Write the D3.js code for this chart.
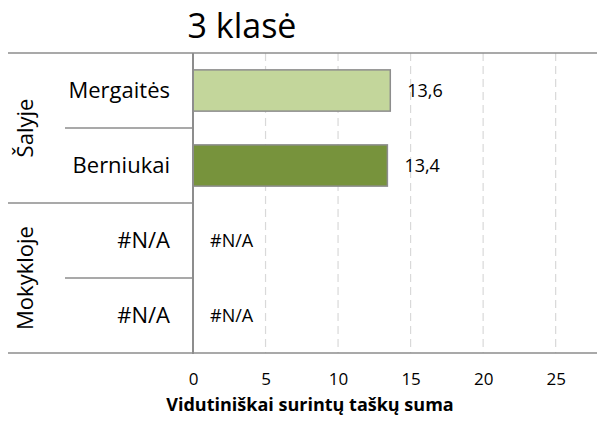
<!DOCTYPE html>
<html>
<head>
<meta charset="utf-8">
<script src="https://cdn.jsdelivr.net/npm/d3@7"></script>
<style>
  body { margin: 0; background: #fff; }
  text { font-family: "Open Sans", sans-serif; fill: #000; }
</style>
</head>
<body>
<svg id="chart" width="597" height="421"></svg>
<script>
// chart data
const groups = ["Šalyje", "Mokykloje"];
const rowGroup = ["Šalyje", "Šalyje", "Mokykloje", "Mokykloje"];
const rowLabels = ["Mergaitės", "Berniukai", "#N/A", "#N/A"];
const values = [13.6, 13.4, null, null];
const valueLabels = ["13,6", "13,4", "#N/A", "#N/A"];
const barColors = ["#c3d69b", "#77933c", "#c3d69b", "#77933c"];
const xTicks = [0, 5, 10, 15, 20, 25];

const svg = d3.select("#chart");
const plotLeft = 193, plotRight = 597, plotTop = 53, plotBottom = 353;

var x = d3.scaleLinear().domain([0, 27.85]).range([plotLeft, plotRight]);
var y = d3.scaleBand().domain(d3.range(rowLabels.length)).range([plotTop, plotBottom]).paddingInner(0.45).paddingOuter(0.225);
var rowY = d3.scaleBand().domain(d3.range(rowLabels.length)).range([plotTop, plotBottom]);

// title
svg.append("text")
  .attr("x", 242).attr("y", 38)
  .attr("text-anchor", "middle")
  .attr("font-size", 34)
  .text("3 klasė");

// dashed gridlines
svg.append("g").selectAll("line")
  .data(xTicks.filter(function(d) { return d > 0; }))
  .enter().append("line")
  .attr("x1", function(d) { return x(d); })
  .attr("x2", function(d) { return x(d); })
  .attr("y1", plotTop).attr("y2", plotBottom)
  .attr("stroke", "#d9d9d9")
  .attr("stroke-width", 1.2)
  .attr("stroke-dasharray", "8,5");

// bars
svg.append("g").selectAll("rect")
  .data(values.map(function(v, i) { return {v: v, i: i}; }).filter(function(d) { return d.v != null; }))
  .enter().append("rect")
  .attr("x", x(0))
  .attr("y", function(d) { return y(d.i); })
  .attr("width", function(d) { return x(d.v) - x(0); })
  .attr("height", y.bandwidth())
  .attr("fill", function(d) { return barColors[d.i]; })
  .attr("stroke", "#8d8d8d")
  .attr("stroke-width", 1.5);

// value labels
svg.append("g").selectAll("text")
  .data(values.map(function(v, i) { return {v: v, i: i}; }))
  .enter().append("text")
  .attr("x", function(d) { return x(d.v == null ? 0 : d.v) + 17; })
  .attr("y", function(d) { return y(d.i) + y.bandwidth() / 2; })
  .attr("dy", "0.36em")
  .attr("font-size", 18)
  .text(function(d) { return valueLabels[d.i]; });

// category labels
svg.append("g").selectAll("text")
  .data(rowLabels)
  .enter().append("text")
  .attr("x", 170)
  .attr("y", function(d, i) { return y(i) + y.bandwidth() / 2; })
  .attr("dy", "0.36em")
  .attr("text-anchor", "end")
  .attr("font-size", 22)
  .text(function(d) { return d; });

// group labels (rotated)
groups.forEach(function(g) {
  var idx = d3.range(rowGroup.length).filter(function(i) { return rowGroup[i] === g; });
  var y0 = rowY(idx[0]), y1 = rowY(idx[idx.length - 1]) + rowY.bandwidth();
  svg.append("text")
    .attr("transform", "translate(33," + ((y0 + y1) / 2) + ") rotate(-90)")
    .attr("text-anchor", "middle")
    .attr("font-size", 22)
    .text(g);
});

// table lines
var lineColor = "#8d8d8d";
function hline(x1, x2, yy) {
  svg.append("line")
    .attr("x1", x1).attr("x2", x2).attr("y1", yy).attr("y2", yy)
    .attr("stroke", lineColor).attr("stroke-width", 1.5);
}
hline(8, plotRight, plotTop);
hline(8, plotRight, plotBottom);
for (var i = 1; i < rowLabels.length; i++) {
  if (rowGroup[i] !== rowGroup[i - 1]) hline(8, plotLeft, rowY(i));
  else hline(65, plotLeft, rowY(i));
}
// vertical axis line
svg.append("line")
  .attr("x1", plotLeft).attr("x2", plotLeft).attr("y1", plotTop).attr("y2", plotBottom + 1)
  .attr("stroke", lineColor).attr("stroke-width", 2);

// x axis labels
var xAxis = svg.append("g")
  .attr("transform", "translate(0," + plotBottom + ")")
  .call(d3.axisBottom(x).tickValues(xTicks).tickSize(0).tickPadding(20));
xAxis.select(".domain").remove();
xAxis.selectAll("text").attr("font-size", 17).attr("font-family", "'Open Sans', sans-serif").attr("fill", "#000");

svg.append("text")
  .attr("x", 310).attr("y", 411)
  .attr("text-anchor", "middle")
  .attr("font-size", 18)
  .attr("font-weight", "bold")
  .text("Vidutiniškai surintų taškų suma");
</script>
</body>
</html>
